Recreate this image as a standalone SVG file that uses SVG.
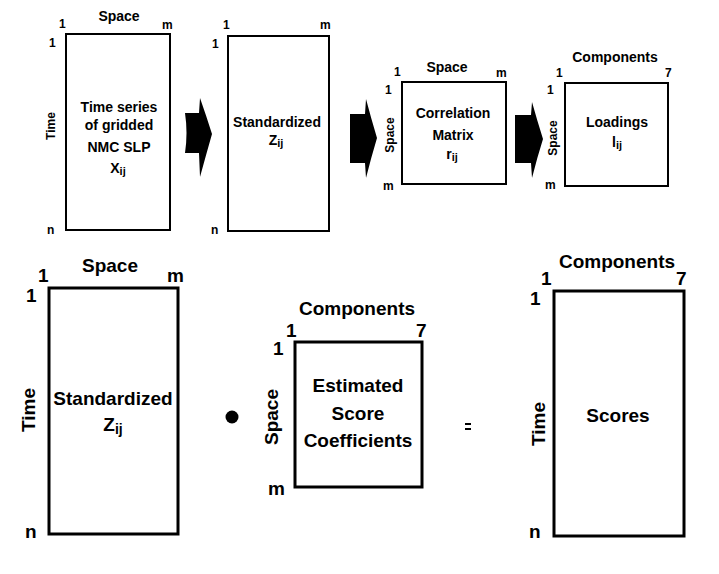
<svg xmlns="http://www.w3.org/2000/svg" width="719" height="574" viewBox="0 0 719 574">
  <style>
    text { font-family: "Liberation Sans", Arial, sans-serif; font-weight: bold; fill: #000; }
    .box { fill: #fff; stroke: #000; stroke-width: 2; }
    .boxL { fill: #fff; stroke: #000; stroke-width: 3; }
    .n { font-size: 12px; }
    .s { font-size: 14px; }
    .L { font-size: 19px; }
    .c { text-anchor: middle; }
    .arrow { fill: #000; }
  </style>
  <rect width="719" height="574" fill="#fff"/>

  <!-- top row: gridded SLP -->
  <g id="slp">
    <rect class="box" x="66" y="34" width="104" height="196"/>
    <text class="s c" x="119" y="21">Space</text>
    <text class="n" x="59" y="28">1</text>
    <text class="n" x="162" y="29">m</text>
    <text class="n" x="49" y="47">1</text>
    <text class="n" x="47" y="234">n</text>
    <text class="n c" transform="translate(55,126) rotate(-90)">Time</text>
    <text class="s c" x="119" y="112">Time series</text>
    <text class="s c" x="119" y="130">of gridded</text>
    <text class="s c" x="119" y="152">NMC SLP</text>
    <text class="s c" x="118" y="173">X<tspan font-size="11" dy="2">ij</tspan></text>
  </g>

  <g id="standardized">
    <rect class="box" x="228" y="36" width="101" height="195"/>
    <text class="n" x="223" y="29">1</text>
    <text class="n" x="320" y="29">m</text>
    <text class="n" x="212" y="48">1</text>
    <text class="n" x="211" y="234">n</text>
    <text class="s c" x="277" y="127">Standardized</text>
    <text class="s c" x="276" y="145">Z<tspan font-size="11" dy="2">ij</tspan></text>
  </g>

  <g id="correlation">
    <rect class="box" x="402" y="82" width="104" height="102"/>
    <text class="s c" x="447" y="72">Space</text>
    <text class="n" x="394" y="76">1</text>
    <text class="n" x="496" y="77">m</text>
    <text class="n" x="385" y="94">1</text>
    <text class="n" x="383" y="190">m</text>
    <text class="n c" transform="translate(394,135) rotate(-90)">Space</text>
    <text class="s c" x="453" y="118">Correlation</text>
    <text class="s c" x="453" y="140">Matrix</text>
    <text class="s c" x="452" y="159">r<tspan font-size="11" dy="2">ij</tspan></text>
  </g>

  <g id="loadings">
    <rect class="box" x="565" y="83" width="103" height="103"/>
    <text class="s c" x="615" y="62">Components</text>
    <text class="n" x="556" y="77">1</text>
    <text class="n" x="665" y="77">7</text>
    <text class="n" x="547" y="94">1</text>
    <text class="n" x="545" y="189">m</text>
    <text class="n c" transform="translate(557,138) rotate(-90)">Space</text>
    <text class="s c" x="617" y="127">Loadings</text>
    <text class="s c" x="617" y="147">l<tspan font-size="11" dy="2">ij</tspan></text>
  </g>

  <!-- bottom row: scores = standardized data x score coefficients -->
  <g id="standardized-bottom">
    <rect class="boxL" x="49" y="288" width="129" height="246"/>
    <text class="L c" x="110" y="272">Space</text>
    <text class="L" x="38" y="282">1</text>
    <text class="L" x="167" y="282">m</text>
    <text class="L" x="26" y="302">1</text>
    <text class="L" x="25" y="538">n</text>
    <text class="L c" transform="translate(35,410) rotate(-90)">Time</text>
    <text class="L c" x="113" y="405">Standardized</text>
    <text class="L c" x="113" y="431">Z<tspan font-size="14" dy="3">ij</tspan></text>
  </g>

  <g id="product">
    <circle cx="232" cy="417" r="6.5" fill="#000"/>
  </g>

  <g id="coefficients">
    <rect class="boxL" x="295" y="342" width="127" height="145"/>
    <text class="L c" x="357" y="315">Components</text>
    <text class="L" x="286" y="337">1</text>
    <text class="L" x="416" y="337">7</text>
    <text class="L" x="273" y="355">1</text>
    <text class="L" x="268" y="495">m</text>
    <text class="L c" transform="translate(278,417) rotate(-90)">Space</text>
    <text class="L c" x="358" y="392">Estimated</text>
    <text class="L c" x="358" y="420">Score</text>
    <text class="L c" x="358" y="447">Coefficients</text>
  </g>

  <g id="equals">
    <rect x="465" y="423" width="6" height="2" fill="#000"/>
    <rect x="465" y="428" width="6" height="2" fill="#000"/>
  </g>

  <g id="scores">
    <rect class="boxL" x="554" y="291" width="130" height="245"/>
    <text class="L c" x="617" y="268">Components</text>
    <text class="L" x="541" y="285">1</text>
    <text class="L" x="676" y="285">7</text>
    <text class="L" x="530" y="305">1</text>
    <text class="L" x="529" y="538">n</text>
    <text class="L c" transform="translate(545,424) rotate(-90)">Time</text>
    <text class="L c" x="618" y="422">Scores</text>
  </g>

  <!-- block arrows between the top-row steps -->
  <g id="connectors">
    <path class="arrow" d="M185,113 L199,113 L200,98 Q206,115 212,134 Q206,155 200,177 L199,153 L185,153 Q188,133 185,113 Z"/>
    <path class="arrow" d="M350,114 L365,114 L366,99 Q371,118 377,138 Q371,158 366,178 L365,163 L350,163 Z"/>
    <path class="arrow" d="M515,115 L531,115 L532,102 Q537,120 543,139 Q537,158 532,178 L531,163 L515,163 Z"/>
  </g>
</svg>
